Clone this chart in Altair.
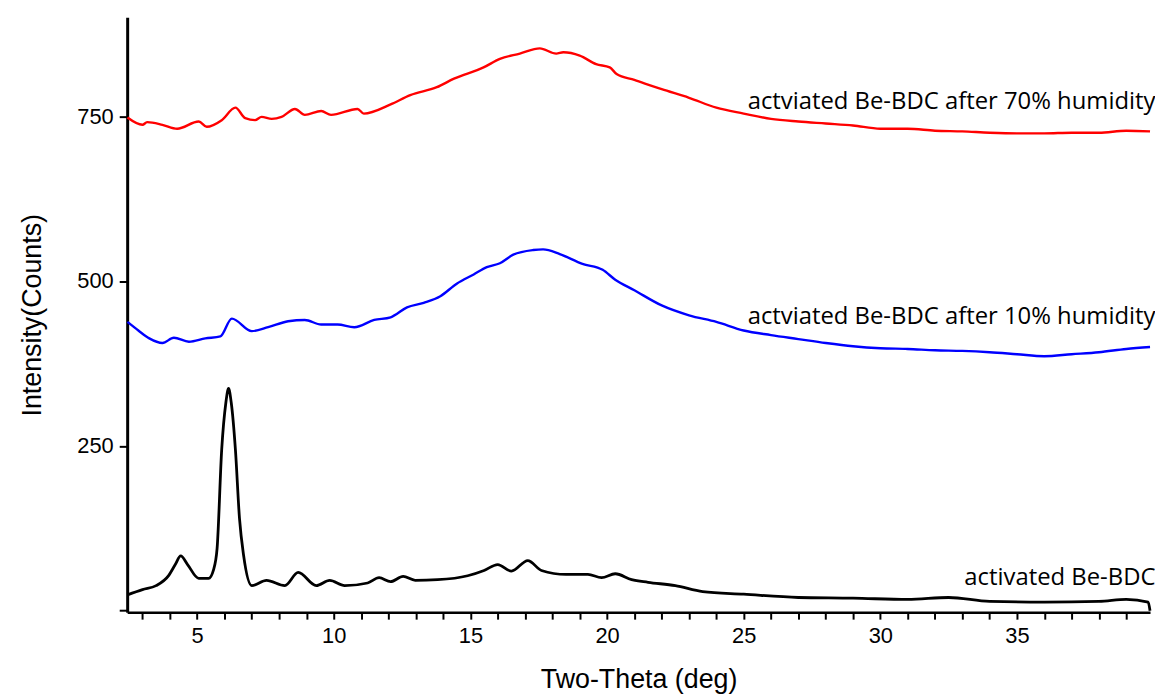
import altair as alt
import pandas as pd

# activated Be-BDC (black)
black_x = [2.45, 3.0, 3.5, 3.97, 4.2, 4.4, 4.65, 5.06, 5.42, 5.6, 5.73, 5.9, 6.05, 6.15, 6.25, 6.4, 6.55, 6.7, 7.0,
           7.54, 8.21, 8.7, 9.36, 9.85, 10.4, 11.24, 11.66, 12.08, 12.54, 12.98, 13.8, 14.9, 15.5, 16.0, 16.5,
           17.1, 17.6, 18.5, 19.3, 19.8, 20.3, 20.9, 21.5, 22.5, 23.5, 25.0, 27.0, 29.0, 31.0, 32.5, 34.0, 36.0,
           38.0, 39.0, 39.8, 39.87]
black_y = [24, 32, 38, 54, 70, 83, 70, 49, 49, 62, 94, 245, 315, 337, 315, 245, 140, 84, 38,
           46, 38, 58, 38, 46, 38, 42, 50, 44, 52, 46, 47, 53, 61, 70, 60,
           76, 61, 55, 55, 50, 56, 47, 43, 38, 29, 25, 20, 19, 17, 20, 14, 13,
           14, 17, 13, 0]

# after 10% humidity (blue)
blue_x = [2.45, 2.85, 3.25, 3.73, 4.15, 4.7, 5.3, 5.85, 6.27, 7.0, 7.6, 8.33, 8.94, 9.54, 10.14, 10.75, 11.48,
          12.08, 12.68, 13.29, 13.9, 14.5, 15.12, 15.6, 16.08, 16.57, 17.3, 17.66, 18.27, 19.1, 19.84, 20.3,
          21, 22, 23, 24, 25, 26, 27, 28, 29, 30, 31, 32, 33, 34, 35, 36, 37, 38, 39, 39.87]
blue_y = [438, 425, 413, 406, 414, 408, 413, 416, 443, 424, 430, 439, 441, 434, 434, 430, 441,
          445, 460, 467, 477, 496, 510, 521, 527, 540, 547, 548, 541, 526, 517, 502,
          486, 463, 448, 438, 425, 418, 412, 406, 401, 398, 397, 395, 394, 392, 389, 386, 389, 392, 397, 400]

# after 70% humidity (red)
red_x = [2.45, 3.0, 3.17, 3.73, 4.27, 5.06, 5.35, 5.9, 6.4, 6.76, 7.12, 7.36, 7.73, 8.09, 8.58, 8.94, 9.54,
         9.9, 10.87, 11.1, 12.08, 12.8, 13.77, 14.4, 15.48, 16.08, 16.81, 17.54, 18.14, 18.4, 19.0, 19.6,
         20.1, 20.35, 21, 22, 23, 24, 25, 26, 27, 28, 29, 30, 31, 32, 33, 34, 35, 36, 37, 38, 39, 39.87]
red_y = [748, 737, 741, 737, 731, 742, 734, 744, 763, 747, 744, 749, 746, 749, 761, 752, 758,
         752, 761, 754, 768, 782, 794, 807, 824, 837, 845, 853, 845, 847, 842, 829,
         824, 814, 805, 791, 778, 763, 754, 746, 742, 739, 736, 731, 731, 728, 727, 725, 724, 724, 725, 725, 728, 727]

series_names = ["activated Be-BDC", "actviated Be-BDC after 10% humidity", "actviated Be-BDC after 70% humidity"]
series_colors = ["#000000", "#0000ff", "#ff0000"]
series_widths = [2.8, 2.4, 2.4]

label_x = [39.85, 39.85, 39.85]
label_y = [49, 446, 772]

x_ticks = list(range(3, 40))
y_ticks = [0, 250, 500, 750]

rows = []
for name, w, xs, ys in zip(series_names, series_widths, [black_x, blue_x, red_x], [black_y, blue_y, red_y]):
    for i, (a, b) in enumerate(zip(xs, ys)):
        rows.append({"series": name, "theta": a, "counts": b, "i": i, "w": w})
df = pd.DataFrame(rows)
labels = pd.DataFrame({"series": series_names, "theta": label_x, "counts": label_y})

xscale = alt.Scale(domain=[2.44, 39.87], nice=False, zero=False)
yscale = alt.Scale(domain=[-2.3, 900], nice=False, zero=False)
cscale = alt.Scale(domain=series_names, range=series_colors)

xaxis = alt.Axis(title="Two-Theta (deg)", values=x_ticks,
                 labelExpr="datum.value % 5 == 0 ? datum.label : ''",
                 labelOverlap=False,
                 grid=False, tickSize=7, tickWidth=2, tickColor="black",
                 domainWidth=2.5, domainColor="black",
                 labelFont="Liberation Sans", labelFontSize=22, labelColor="black",
                 labelPadding=7, labelFlush=False,
                 titleFont="Liberation Sans", titleFontSize=27, titleFontWeight="normal",
                 titleColor="black", titlePadding=20)
yaxis = alt.Axis(title="Intensity(Counts)", values=y_ticks,
                 labelExpr="datum.value == 0 ? '' : datum.label",
                 labelOverlap=False,
                 grid=False, tickSize=8, tickWidth=2, tickColor="black",
                 domainWidth=3, domainColor="black",
                 labelFont="Liberation Sans", labelFontSize=22, labelColor="black",
                 labelPadding=6,
                 titleFont="Liberation Sans", titleFontSize=27, titleFontWeight="normal",
                 titleColor="black", titlePadding=31)

lines = alt.Chart(df).mark_line(interpolate="monotone").encode(
    x=alt.X("theta:Q", scale=xscale, axis=xaxis),
    y=alt.Y("counts:Q", scale=yscale, axis=yaxis),
    color=alt.Color("series:N", scale=cscale, legend=None),
    strokeWidth=alt.StrokeWidth("w:Q", scale=None, legend=None),
    detail="series:N",
    order="i:Q",
)

texts = alt.Chart(labels).mark_text(align="right", baseline="middle", font="Open Sans",
                                     fontSize=24, color="black", dx=6).encode(
    x=alt.X("theta:Q", scale=xscale, axis=xaxis),
    y=alt.Y("counts:Q", scale=yscale, axis=yaxis),
    text="series:N",
)

chart = alt.layer(lines, texts).properties(
    width=1030, height=599,
    background="white",
    autosize=alt.AutoSizeParams(type="none"),
    padding={"left": 120, "top": 7, "right": 5, "bottom": 83},
).configure_view(stroke=None).configure_axis(labelOverlap=False)

chart.save("out.html", embed_options={"renderer": "svg", "actions": False})
